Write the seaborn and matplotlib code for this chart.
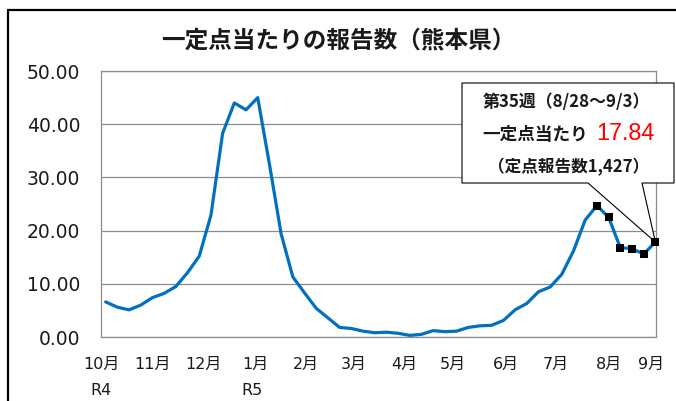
import matplotlib
matplotlib.use('Agg')
import matplotlib.pyplot as plt
import seaborn as sns
import numpy as np
import pandas as pd
from matplotlib.patches import Polygon
from matplotlib.lines import Line2D
from matplotlib.ticker import FormatStrFormatter

# weekly reports per sentinel site, Kumamoto (R4 week 40 -> R5 week 35)
week_labels = ['R4-%d' % w for w in range(40, 53)] + ['R5-%d' % w for w in range(1, 36)]
per_site = [6.6, 5.6, 5.1, 6.0, 7.4, 8.2, 9.5, 12.1, 15.2, 22.9,
            38.3, 44.0, 42.7, 45.0, 32.5, 19.4, 11.3, 8.3, 5.4, 3.6,
            1.8, 1.6, 1.1, 0.8, 0.9, 0.7, 0.3, 0.5, 1.2, 1.0,
            1.1, 1.8, 2.1, 2.2, 3.1, 5.1, 6.3, 8.5, 9.4, 11.8,
            16.2, 22.0, 24.7, 22.5, 16.8, 16.6, 15.6, 17.84]
n_marked = 6

month_labels = ['10月', '11月', '12月', '1月', '2月', '3月', '4月', '5月', '6月', '7月', '8月', '9月']
month_pos = [-0.4, 4.0, 8.4, 12.8, 17.1, 21.2, 25.5, 29.7, 34.2, 38.5, 43.0, 46.6]
year_labels = ['R4', 'R5']
year_pos = [-0.4, 12.5]

latest_week = 35
latest_period = '8/28～9/3'
latest_reports = 1427

df = pd.DataFrame({'week': week_labels, 'value': per_site})
df['i'] = np.arange(len(df))

sns.set_style('white')
plt.rcParams['font.family'] = ['DejaVu Sans', 'Noto Sans CJK JP']

fig, ax = plt.subplots(figsize=(6.76, 4.01), dpi=100)
fig.subplots_adjust(left=0.1494, right=0.9704, bottom=0.1596, top=0.8229)

sns.lineplot(data=df, x='i', y='value', color='#0070C0', linewidth=2.3, ax=ax, zorder=2)
sns.scatterplot(data=df.tail(n_marked), x='i', y='value', marker='s', s=38, color='black',
                edgecolor='black', linewidth=0, ax=ax, zorder=4, clip_on=False)

ax.set_xlim(-0.35, 47.05)
ax.set_ylim(0, 50)
ax.set_yticks(np.arange(0, 51, 10))
ax.yaxis.set_major_formatter(FormatStrFormatter('%.2f'))
ax.yaxis.grid(True, color='#8c8c8c', linewidth=0.9)
ax.set_axisbelow(True)
for s in ax.spines.values():
    s.set_color('#8c8c8c')
    s.set_linewidth(0.9)
ax.set_xticks(month_pos)
ax.set_xticklabels(month_labels, fontsize=11.5, color='#1a1a1a')
ax.tick_params(axis='x', length=0, pad=14)
ax.tick_params(axis='y', length=0, pad=15, labelsize=13.5, labelcolor='#1a1a1a')
for lab in ax.get_yticklabels():
    lab.set_family('DejaVu Sans')
ax.set_xlabel('')
ax.set_ylabel('')

for p, lab in zip(year_pos, year_labels):
    ax.text(p, -0.2, lab, transform=ax.get_xaxis_transform(), ha='center', va='center',
            fontsize=11.5, color='#1a1a1a')

fig.text(0.5, 1 - 40 / 401, '一定点当たりの報告数（熊本県）', ha='center', va='center',
         fontsize=17, fontweight='bold', family=['Noto Sans CJK JP'], color='#1a1a1a')

# outer frame (left and top edges visible)
fx, fy = 8 / 676, 1 - 10 / 401
fig.add_artist(Line2D([fx, fx], [0, fy], color='black', linewidth=1.6))
fig.add_artist(Line2D([fx, 1.0], [fy, fy], color='black', linewidth=1.6))

# callout
W, H = 676, 401
tip_disp = ax.transData.transform((df['i'].iloc[-1], df['value'].iloc[-1]))
tip = fig.transFigure.inverted().transform(tip_disp)
def f(x, y):
    return (x / W, 1 - y / H)
verts = [f(462, 83), f(674, 83), f(674, 183), f(642, 183), tuple(tip), f(588, 183), f(462, 183)]
ax.add_patch(Polygon(verts, closed=True, facecolor='white', edgecolor='black', linewidth=0.8,
                     transform=fig.transFigure, clip_on=False, zorder=3))

jp = ['Noto Sans CJK JP']
fig.text(483 / W, 1 - 102 / H, '第%d週（%s）' % (latest_week, latest_period), ha='left', va='center',
         fontsize=12.2, fontweight='bold', family=jp, color='#1a1a1a')
fig.text(482 / W, 1 - 135 / H, '一定点当たり', ha='left', va='center',
         fontsize=12.7, fontweight='bold', family=jp, color='#1a1a1a')
fig.text(596 / W, 1 - 133 / H, '%.2f' % per_site[-1], ha='left', va='center',
         fontsize=16.8, family=['Liberation Sans'], color='#FF0000')
fig.text(488 / W, 1 - 167 / H, '（定点報告数{:,}）'.format(latest_reports), ha='left', va='center',
         fontsize=12, fontweight='bold', family=jp, color='#1a1a1a')

fig.savefig('out.png', dpi=100)
